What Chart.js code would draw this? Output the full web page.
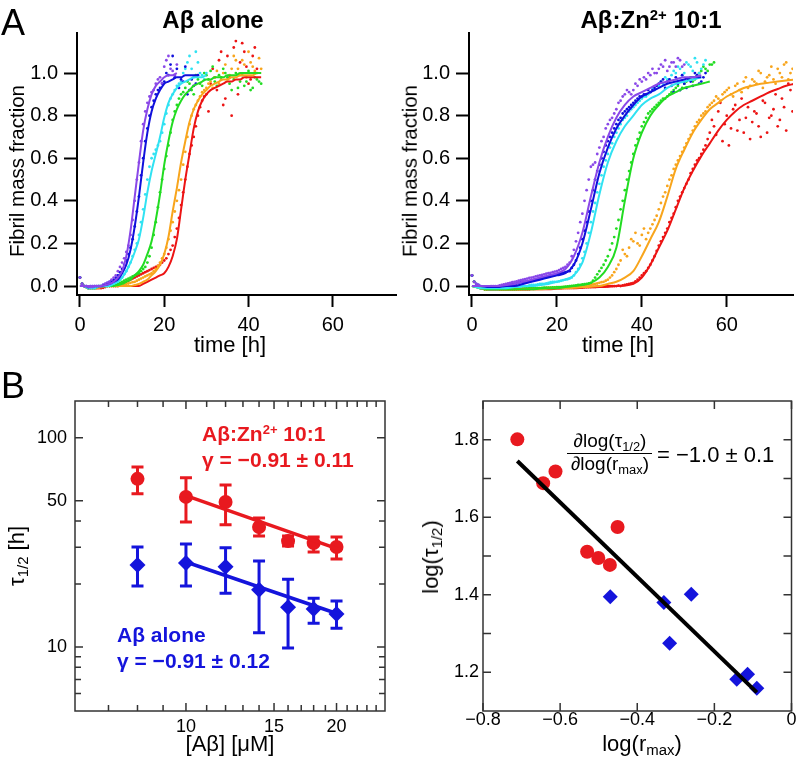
<!DOCTYPE html>
<html>
<head>
<meta charset="utf-8">
<script src="https://cdn.jsdelivr.net/npm/chart.js@4.4.1/dist/chart.umd.min.js"></script>
<style>
  body { margin: 0; background: #fff; }
  #fig { position: relative; width: 799px; height: 760px; overflow: hidden; font-family: 'Liberation Sans', Arial, sans-serif; color: #000; }
  #fig canvas { position: absolute; }
  .t { position: absolute; white-space: nowrap; line-height: 1; }
  .c { transform: translateX(-50%); }
  .rot { transform: translate(-50%, -50%) rotate(-90deg); }
  .sub { font-size: 0.68em; vertical-align: -0.28em; line-height: 0; }
  .sup { font-size: 0.62em; vertical-align: 0.55em; line-height: 0; }
  .red { color: #e8191f; font-weight: bold; font-size: 21px; }
  .blue { color: #1414dc; font-weight: bold; font-size: 21px; }
</style>
</head>
<body>
<div id="fig">
  <canvas id="aloneChart" width="400" height="370" style="left:0;top:0"></canvas>
  <canvas id="zincChart" width="399" height="370" style="left:400px;top:0"></canvas>
  <canvas id="tauChart" width="400" height="390" style="left:0;top:370px"></canvas>
  <canvas id="rmaxChart" width="399" height="390" style="left:400px;top:370px"></canvas>

  <div class="t" style="left:1px;top:4.5px;font-size:36px">A</div>
  <div class="t c" style="left:213px;top:7.7px;font-size:24px;font-weight:bold">Aβ alone</div>
  <div class="t c" style="left:651px;top:7.7px;font-size:24px;font-weight:bold">Aβ:Zn<span class="sup">2+</span> 10:1</div>
  <div class="t rot" style="left:17px;top:171px;font-size:20.5px">Fibril mass fraction</div>
  <div class="t rot" style="left:410px;top:171px;font-size:20.5px">Fibril mass fraction</div>
  <div class="t c" style="left:230px;top:334px;font-size:22px">time [h]</div>
  <div class="t c" style="left:618px;top:334px;font-size:22px">time [h]</div>

  <div class="t" style="left:1px;top:367.5px;font-size:36px">B</div>
  <div class="t red" style="left:202px;top:423px">Aβ:Zn<span class="sup">2+</span> 10:1</div>
  <div class="t red" style="left:202px;top:449px">γ = −0.91 ± 0.11</div>
  <div class="t blue" style="left:117px;top:624px">Aβ alone</div>
  <div class="t blue" style="left:117px;top:650px">γ = −0.91 ± 0.12</div>
  <div class="t rot" style="left:17px;top:556px;font-size:22px">τ<span class="sub">1/2</span> [h]</div>
  <div class="t c" style="left:230px;top:733px;font-size:22px">[Aβ] [μM]</div>

  <div class="t rot" style="left:431px;top:557px;font-size:22px">log(τ<span class="sub">1/2</span>)</div>
  <div class="t c" style="left:642px;top:733px;font-size:22px">log(r<span class="sub">max</span>)</div>
  <div class="t c" style="left:610px;top:431px;font-size:19px">∂log(τ<span class="sub">1/2</span>)</div>
  <div style="position:absolute;left:567px;top:452.5px;width:85px;height:1.5px;background:#000"></div>
  <div class="t c" style="left:610px;top:454px;font-size:19px">∂log(r<span class="sub">max</span>)</div>
  <div class="t" style="left:657px;top:443.5px;font-size:22px">= −1.0 ± 0.1</div>
</div>

<script>
// fibril kinetics, time grids in hours
const hoursAlone = [0,1,2,3,4,5,6,7,8,9,10,11,12,13,14,15,16,17,18,19,20,21,22,23,24,25,26,27,28,29,30,31,32,33,34,35,36,37,38,39,40,41,42,43];
const halfHoursAlone = [0.5,1.5,2.5,3.5,4.5,5.5,6.5,7.5,8.5,9.5,10.5,11.5,12.5,13.5,14.5,15.5,16.5,17.5,18.5,19.5,20.5,21.5,22.5,23.5,24.5,25.5,26.5,27.5,28.5,29.5,30.5,31.5,32.5,33.5,34.5,35.5,36.5,37.5,38.5,39.5,40.5,41.5,42.5];
const hoursZinc = [0,1,2,3,4,5,6,7,8,9,10,11,12,13,14,15,16,17,18,19,20,21,22,23,24,25,26,27,28,29,30,31,32,33,34,35,36,37,38,39,40,41,42,43,44,45,46,47,48,49,50,51,52,53,54,55,56,57,58,59,60,61,62,63,64,65,66,67,68,69,70,71,72,73,74,75,76];
const halfHoursZinc = [0.5,1.5,2.5,3.5,4.5,5.5,6.5,7.5,8.5,9.5,10.5,11.5,12.5,13.5,14.5,15.5,16.5,17.5,18.5,19.5,20.5,21.5,22.5,23.5,24.5,25.5,26.5,27.5,28.5,29.5,30.5,31.5,32.5,33.5,34.5,35.5,36.5,37.5,38.5,39.5,40.5,41.5,42.5,43.5,44.5,45.5,46.5,47.5,48.5,49.5,50.5,51.5,52.5,53.5,54.5,55.5,56.5,57.5,58.5,59.5,60.5,61.5,62.5,63.5,64.5,65.5,66.5,67.5,68.5,69.5,70.5,71.5,72.5,73.5,74.5,75.5];
const hoursZincFit = [0,2,4,6,8,10,12,14,16,18,20,22,24,26,28,30,32,34,36,38,40,42,44,46,48,50,52,54,56,58,60,62,64,66,68,70,72,74,76];
const timeTicks = [0, 20, 40, 60];
const fractionTicks = [0, 0.2, 0.4, 0.6, 0.8, 1.0];

// A-beta alone: dots on the hour, dots on the half hour, fitted curve
const purpleAloneDots = [0.04,0,-0.005,-0.005,0,0,0.01,0.02,0.04,0.07,0.11,0.16,0.24,0.40,0.58,0.76,0.86,0.91,0.95,0.98,1.03,1.08,1.01,1.04];
const purpleAloneHalf = [0.01,0,-0.005,0,0,0.005,0.015,0.03,0.05,0.09,0.13,0.19,0.31,0.50,0.68,0.82,0.89,0.92,0.97,0.95,1.06,1.02,0.99];
const purpleAloneFit = [0,0,0,0,0,0,0.005,0.01,0.02,0.04,0.07,0.14,0.26,0.42,0.58,0.73,0.83,0.90,0.94,0.96,0.98,0.99,0.99,1.0];
const blueAloneDots = [0.04,0,-0.005,0,0,0,0.01,0.02,0.03,0.05,0.08,0.12,0.18,0.28,0.42,0.60,0.74,0.84,0.90,0.93,0.96,0.99,1.08,1.02,0.97,1.03,0.92,0.94,0.99];
const blueAloneHalf = [0.01,0,0,0,0,0.005,0.015,0.025,0.04,0.065,0.10,0.15,0.22,0.35,0.52,0.68,0.80,0.87,0.92,0.95,1.0,1.04,0.98,0.93,0.96,0.90,0.97,0.95];
const blueAloneFit = [0,0,0,0,0,0,0.005,0.01,0.02,0.03,0.06,0.10,0.17,0.28,0.42,0.58,0.72,0.82,0.88,0.92,0.95,0.96,0.97,0.98,0.98,0.99,0.99,0.99,0.99];
const cyanAloneDots = [0.04,0,-0.01,-0.01,-0.005,0,0,0.005,0.01,0.02,0.04,0.07,0.11,0.17,0.24,0.36,0.50,0.60,0.64,0.68,0.76,0.85,0.90,0.94,0.96,1.02,1.08,0.98,1.05,0.99,1.00];
const cyanAloneHalf = [0.01,-0.005,-0.01,-0.01,0,0,0,0.008,0.015,0.03,0.055,0.09,0.14,0.20,0.30,0.43,0.56,0.62,0.66,0.72,0.81,0.88,0.92,0.95,1.0,1.05,1.02,1.1,1.0,0.97];
const cyanAloneFit = [0,0,0,0,0,0,0,0,0.01,0.02,0.04,0.07,0.11,0.16,0.22,0.32,0.44,0.54,0.62,0.70,0.79,0.86,0.90,0.93,0.95,0.96,0.97,0.98,0.98,0.98,0.99];
const greenAloneDots = [0.04,0,-0.01,-0.01,-0.005,0,0,0,0.005,0.01,0.02,0.03,0.04,0.05,0.06,0.08,0.11,0.18,0.30,0.44,0.55,0.66,0.78,0.85,0.90,0.93,0.95,0.90,0.97,0.94,0.99,1.01,0.96,0.99,1.02,0.98,0.92,1.00,0.96,0.94,1.01,0.93,0.97,0.95];
const greenAloneHalf = [0.01,-0.005,-0.01,-0.01,0,0,0,0.003,0.008,0.015,0.025,0.035,0.045,0.055,0.07,0.09,0.14,0.24,0.37,0.50,0.61,0.72,0.82,0.88,0.91,0.96,0.92,0.99,0.95,1.0,0.97,1.03,0.94,0.98,1.0,0.95,0.97,0.93,0.99,0.96,0.92,0.98,0.96];
const greenAloneFit = [0,0,0,0,0,0,0,0,0,0.005,0.01,0.02,0.03,0.05,0.07,0.10,0.15,0.21,0.31,0.43,0.57,0.68,0.77,0.83,0.87,0.90,0.92,0.94,0.95,0.96,0.97,0.97,0.98,0.98,0.98,0.99,0.99,0.99,1.0,1.0,1.0,1.0,1.0,1.0];
const orangeAloneDots = [0.04,0,-0.01,-0.01,-0.01,-0.005,0,0,0,0,0.005,0.01,0.015,0.02,0.03,0.04,0.05,0.06,0.08,0.11,0.15,0.22,0.30,0.40,0.50,0.63,0.76,0.83,0.87,0.91,0.93,0.96,0.98,0.95,1.0,0.97,1.02,1.06,0.99,1.04,1.10,1.03,1.0,1.02];
const orangeAloneHalf = [0.01,-0.005,-0.01,-0.01,-0.008,0,0,0,0,0.003,0.008,0.012,0.018,0.025,0.035,0.045,0.055,0.07,0.095,0.13,0.18,0.26,0.35,0.45,0.57,0.70,0.80,0.85,0.89,0.92,0.95,0.93,1.01,0.97,1.04,0.99,1.08,1.02,1.06,0.98,1.05,1.01,1.07];
const orangeAloneFit = [0,0,0,0,0,0,0,0,0,0,0,0,0,0.005,0.01,0.02,0.03,0.05,0.07,0.10,0.15,0.23,0.35,0.46,0.58,0.68,0.77,0.83,0.87,0.90,0.92,0.94,0.95,0.96,0.97,0.97,0.98,0.98,0.99,0.99,0.99,0.99,1.0,1.0];
const redAloneDots = [0.04,0,-0.01,-0.01,-0.01,-0.01,-0.005,0,0,0,0.01,0.02,0.03,0.04,0.05,0.06,0.07,0.08,0.09,0.10,0.12,0.15,0.19,0.27,0.38,0.50,0.62,0.70,0.80,0.87,0.90,0.95,0.98,1.06,0.85,1.08,0.80,1.15,1.05,1.10,0.95,1.08,1.02];
const redAloneHalf = [0.01,-0.005,-0.01,-0.01,-0.01,-0.008,0,0,0,0.005,0.015,0.025,0.035,0.045,0.055,0.065,0.075,0.085,0.095,0.11,0.13,0.17,0.23,0.32,0.44,0.56,0.66,0.75,0.84,0.89,0.82,1.02,0.92,1.10,0.88,0.98,1.12,0.90,1.14,1.03,0.97,1.12];
const redAloneFit = [0,0,0,0,0,0,0,0,0,0,0,0,0,0,0,0.01,0.02,0.03,0.04,0.05,0.06,0.09,0.14,0.22,0.36,0.50,0.62,0.74,0.82,0.87,0.90,0.92,0.93,0.94,0.95,0.96,0.96,0.97,0.97,0.98,0.98,0.98,0.98,0.98];

// A-beta : Zn2+ 10:1
const purpleZincDots = [0.05,0.01,0,-0.005,-0.005,0,0,0.005,0.01,0.015,0.02,0.025,0.03,0.035,0.04,0.045,0.05,0.055,0.06,0.065,0.07,0.08,0.09,0.11,0.17,0.25,0.34,0.45,0.56,0.58,0.65,0.70,0.76,0.79,0.83,0.87,0.90,0.91,0.92,0.94,0.96,0.97,0.99,1.0,1.02,1.03,1.01,1.05,1.03,1.06,1.04];
const purpleZincHalf = [0.02,0.005,-0.005,-0.005,0,0,0.003,0.008,0.012,0.018,0.022,0.028,0.032,0.038,0.042,0.048,0.052,0.058,0.062,0.068,0.075,0.085,0.10,0.14,0.21,0.30,0.40,0.50,0.57,0.62,0.68,0.74,0.78,0.81,0.86,0.89,0.92,0.90,0.95,0.97,0.98,1.0,1.02,1.0,1.04,1.06,1.03,1.05,1.07,1.03];
const purpleZincFit = [0,0,0,0,0.005,0.01,0.02,0.03,0.04,0.05,0.06,0.08,0.14,0.25,0.42,0.58,0.70,0.79,0.85,0.89,0.91,0.93,0.95,0.96,0.97,0.98,0.98,0.99];
const blueZincDots = [0.05,0.01,0,-0.005,-0.01,-0.01,-0.005,0,0,0.005,0.01,0.015,0.02,0.02,0.025,0.03,0.035,0.04,0.045,0.05,0.055,0.06,0.065,0.07,0.10,0.15,0.22,0.30,0.40,0.50,0.57,0.63,0.68,0.72,0.76,0.79,0.82,0.84,0.86,0.88,0.89,0.90,0.91,0.93,0.95,0.97,0.96,0.94,0.98,0.92,0.95,0.97,0.94,0.99,0.96,1.0];
const blueZincHalf = [0.02,0.005,-0.005,-0.008,-0.01,-0.008,-0.003,0,0.003,0.008,0.012,0.018,0.02,0.022,0.028,0.032,0.038,0.042,0.048,0.052,0.058,0.062,0.068,0.085,0.12,0.18,0.26,0.35,0.45,0.54,0.60,0.66,0.70,0.74,0.78,0.81,0.83,0.85,0.87,0.89,0.90,0.92,0.92,0.94,0.96,0.93,0.97,0.91,0.95,0.99,0.93,0.96,1.0,0.95,0.98];
const blueZincFit = [0,0,-0.005,-0.005,0,0,0.01,0.02,0.03,0.04,0.05,0.06,0.10,0.20,0.36,0.53,0.65,0.74,0.80,0.85,0.89,0.91,0.93,0.95,0.96,0.97,0.98,0.98];
const cyanZincDots = [0.05,0,-0.01,-0.01,-0.015,-0.015,-0.015,-0.01,-0.01,-0.01,-0.005,-0.005,0,0,0.005,0.005,0.01,0.01,0.015,0.02,0.02,0.025,0.03,0.035,0.05,0.08,0.13,0.20,0.30,0.39,0.48,0.56,0.62,0.67,0.72,0.76,0.79,0.82,0.84,0.86,0.88,0.89,0.91,0.92,0.94,0.95,0.97,0.99,1.0,1.02,1.0,1.04,1.01,1.05,1.02,1.06];
const cyanZincHalf = [0.02,-0.005,-0.01,-0.012,-0.015,-0.015,-0.012,-0.01,-0.01,-0.008,-0.005,-0.002,0,0.003,0.005,0.008,0.01,0.012,0.018,0.02,0.022,0.028,0.032,0.04,0.065,0.10,0.16,0.25,0.35,0.44,0.52,0.59,0.65,0.70,0.74,0.78,0.80,0.83,0.85,0.87,0.89,0.90,0.93,0.94,0.96,0.98,0.97,1.01,1.03,0.99,1.05,1.03,1.07,1.0,1.04];
const cyanZincFit = [0,-0.01,-0.01,-0.01,-0.01,-0.005,0,0,0.005,0.01,0.02,0.03,0.05,0.11,0.25,0.43,0.58,0.68,0.75,0.80,0.85,0.88,0.90,0.93,0.95,0.96,0.97,0.98];
const greenZincDots = [0.05,0,-0.01,-0.015,-0.015,-0.015,-0.015,-0.015,-0.015,-0.015,-0.015,-0.012,-0.012,-0.01,-0.01,-0.01,-0.01,-0.008,-0.008,-0.006,-0.005,-0.005,-0.003,0,0.002,0.005,0.008,0.01,0.015,0.04,0.07,0.10,0.14,0.20,0.27,0.36,0.45,0.54,0.62,0.69,0.75,0.79,0.82,0.84,0.86,0.88,0.89,0.91,0.93,0.92,0.95,0.97,0.96,0.99,1.01,1.02,1.04,1.05];
const greenZincHalf = [0.02,-0.005,-0.012,-0.015,-0.015,-0.015,-0.015,-0.015,-0.015,-0.015,-0.014,-0.012,-0.011,-0.01,-0.01,-0.01,-0.009,-0.008,-0.007,-0.006,-0.005,-0.004,-0.002,0.001,0.003,0.006,0.009,0.012,0.025,0.055,0.085,0.12,0.17,0.23,0.31,0.40,0.50,0.58,0.66,0.72,0.77,0.81,0.83,0.85,0.87,0.88,0.90,0.92,0.94,0.93,0.96,0.98,0.97,1.0,1.03,1.01,1.04];
const greenZincFit = [0,-0.01,-0.015,-0.015,-0.015,-0.015,-0.015,-0.015,-0.012,-0.01,-0.01,-0.005,0,0.005,0.015,0.04,0.09,0.18,0.40,0.60,0.72,0.80,0.85,0.89,0.91,0.93,0.94,0.95,0.96];
const orangeZincDots = [0.05,0,-0.01,-0.015,-0.015,-0.015,-0.015,-0.015,-0.015,-0.015,-0.015,-0.015,-0.012,-0.012,-0.01,-0.01,-0.01,-0.01,-0.008,-0.008,-0.006,-0.005,-0.004,-0.003,-0.002,0,0,0.003,0.005,0.01,0.015,0.02,0.03,0.05,0.08,0.12,0.15,0.18,0.21,0.20,0.24,0.22,0.27,0.31,0.36,0.42,0.47,0.52,0.57,0.61,0.65,0.69,0.73,0.77,0.80,0.82,0.85,0.87,0.88,0.90,0.92,0.90,0.94,0.92,0.96,0.93,0.97,0.95,1.0,0.96,0.99,0.97,1.02,0.98,1.05,1.0,1.08];
const orangeZincHalf = [0.02,-0.005,-0.012,-0.015,-0.015,-0.015,-0.015,-0.015,-0.015,-0.015,-0.015,-0.015,-0.013,-0.012,-0.01,-0.01,-0.01,-0.009,-0.008,-0.007,-0.006,-0.005,-0.004,-0.003,-0.001,0,0.002,0.004,0.008,0.012,0.018,0.025,0.04,0.065,0.10,0.17,0.14,0.22,0.25,0.19,0.27,0.25,0.29,0.33,0.39,0.44,0.50,0.55,0.59,0.63,0.67,0.71,0.75,0.78,0.81,0.84,0.86,0.89,0.87,0.91,0.93,0.89,0.95,0.91,0.98,0.94,0.96,1.01,0.93,0.98,1.03,0.95,1.0,1.04,0.97,1.02];
const orangeZincFit = [0,-0.01,-0.015,-0.015,-0.015,-0.015,-0.015,-0.015,-0.015,-0.012,-0.01,-0.01,-0.008,-0.005,-0.003,0,0.01,0.02,0.04,0.07,0.14,0.22,0.30,0.42,0.55,0.64,0.72,0.78,0.83,0.86,0.89,0.91,0.93,0.94,0.95,0.955,0.96,0.965,0.97];
const redZincDots = [0.05,0,-0.01,-0.015,-0.015,-0.015,-0.015,-0.015,-0.015,-0.015,-0.015,-0.015,-0.015,-0.015,-0.012,-0.012,-0.012,-0.01,-0.01,-0.01,-0.01,-0.01,-0.008,-0.008,-0.008,-0.006,-0.006,-0.005,-0.005,-0.004,-0.003,-0.002,-0.001,0,0,0,0.005,0.01,0.015,0.03,0.05,0.07,0.10,0.14,0.19,0.23,0.27,0.32,0.37,0.42,0.46,0.50,0.55,0.59,0.62,0.66,0.72,0.75,0.82,0.68,0.80,0.74,0.85,0.78,0.72,0.84,0.77,0.81,0.70,0.86,0.79,0.83,0.75,0.88,0.73,0.92,0.86];
const redZincHalf = [0.02,-0.005,-0.012,-0.015,-0.015,-0.015,-0.015,-0.015,-0.015,-0.015,-0.015,-0.015,-0.015,-0.015,-0.013,-0.012,-0.011,-0.01,-0.01,-0.01,-0.01,-0.009,-0.008,-0.008,-0.007,-0.006,-0.005,-0.005,-0.004,-0.003,-0.002,-0.001,0,0,0.002,0.003,0.008,0.012,0.022,0.04,0.06,0.085,0.12,0.165,0.21,0.25,0.30,0.34,0.40,0.44,0.48,0.53,0.57,0.60,0.64,0.69,0.78,0.71,0.86,0.76,0.66,0.83,0.73,0.88,0.79,0.69,0.82,0.75,0.87,0.72,0.80,0.90,0.78,0.84,0.95,0.82];
const redZincFit = [0,-0.01,-0.015,-0.015,-0.015,-0.015,-0.015,-0.015,-0.015,-0.015,-0.012,-0.01,-0.01,-0.008,-0.006,-0.005,-0.003,0,0.003,0.01,0.04,0.10,0.18,0.26,0.36,0.46,0.54,0.61,0.67,0.73,0.78,0.82,0.85,0.87,0.89,0.91,0.925,0.94,0.95];

// half-time vs concentration (B left)
const concentrations = [8, 10, 12, 14, 16, 18, 20];
const tauZinc = [63.7, 52.2, 49.4, 37.5, 32.1, 31.4, 30.1];
const tauZincHigh = [72.6, 64.4, 59.6, 41.4, 34.0, 33.6, 33.6];
const tauZincLow = [54.0, 39.6, 38.4, 34.0, 30.4, 28.5, 26.4];
const tauAlone = [24.7, 25.2, 24.2, 18.8, 15.5, 15.2, 14.4];
const tauAloneHigh = [30.1, 31.1, 29.8, 25.8, 21.1, 17.1, 16.6];
const tauAloneLow = [19.6, 19.6, 18.1, 11.7, 9.9, 13.0, 12.3];
const fitConcentrations = [10, 20.5];
const fitTauZinc = [53, 29];
const fitTauAlone = [25.5, 14.2];
const concTicks = [7,8,9,10,11,12,13,14,15,16,17,18,19,20,21,22,23,24];
const concLabels = [10, 15, 20];
const tauTicks = [6,7,8,9,10,20,30,40,50,100];
const tauLabels = [10, 50, 100];

// log half-time vs log max rate (B right)
const logRmaxZinc = [-0.711, -0.644, -0.612, -0.530, -0.501, -0.471, -0.451];
const logTauZinc = [1.801, 1.688, 1.718, 1.511, 1.495, 1.477, 1.575];
const logRmaxAlone = [-0.470, -0.331, -0.316, -0.260, -0.142, -0.114, -0.090];
const logTauAlone = [1.395, 1.380, 1.275, 1.401, 1.182, 1.195, 1.159];
const fitLogRmax = [-0.711, -0.090];
const fitLogTau = [1.745, 1.148];
const rmaxTicks = [-0.8, -0.6, -0.4, -0.2, 0];
const logTauTicks = [1.2, 1.3, 1.4, 1.5, 1.6, 1.7, 1.8];
const logTauLabels = [1.2, 1.4, 1.6, 1.8];

const FONT = "'Liberation Sans', Arial, sans-serif";
const COLORS = { purple: '#8a48e8', blue: '#1010dc', cyan: '#30e2f2', green: '#22dc22', orange: '#f8a51c', red: '#ec1414' };
const RED = '#e8191f';
const BLUE = '#1414dc';

Chart.defaults.font.family = FONT;
Chart.defaults.color = '#000';

const pts = (xs, ys) => ys.map((y, i) => ({ x: xs[i], y }));
const useTicks = list => scale => { scale.ticks = list.map(v => ({ value: v })); };
const fixSize = (prop, size) => scale => {
  scale[prop] = size;
  scale.paddingLeft = scale.paddingRight = scale.paddingTop = scale.paddingBottom = 0;
};
const minus = s => s.replace('-', '\u2212');

// frame + inward ticks on all four sides (panel B)
const innerTicks = {
  id: 'innerTicks',
  afterDraw(chart, args, opts) {
    const { ctx, chartArea: a, scales: { x, y } } = chart;
    ctx.save();
    ctx.strokeStyle = '#333';
    ctx.lineWidth = 1.5;
    ctx.strokeRect(a.left, a.top, a.right - a.left, a.bottom - a.top);
    ctx.beginPath();
    x.ticks.forEach(t => {
      const px = x.getPixelForValue(t.value);
      const len = t.label ? opts.major : opts.minor;
      ctx.moveTo(px, a.bottom); ctx.lineTo(px, a.bottom - len);
      ctx.moveTo(px, a.top); ctx.lineTo(px, a.top + len);
    });
    y.ticks.forEach(t => {
      const py = y.getPixelForValue(t.value);
      const len = t.label ? opts.major : opts.minor;
      ctx.moveTo(a.left, py); ctx.lineTo(a.left + len, py);
      ctx.moveTo(a.right, py); ctx.lineTo(a.right - len, py);
    });
    ctx.stroke();
    ctx.restore();
  }
};

const errorBars = {
  id: 'errorBars',
  beforeDatasetsDraw(chart) {
    const { ctx, scales: { x, y } } = chart;
    chart.data.datasets.forEach(ds => {
      if (!ds.errHigh) return;
      ctx.save();
      ctx.strokeStyle = ds.backgroundColor;
      ctx.lineWidth = 3;
      ctx.beginPath();
      ds.data.forEach((p, i) => {
        const px = x.getPixelForValue(p.x);
        const top = y.getPixelForValue(ds.errHigh[i]);
        const bot = y.getPixelForValue(ds.errLow[i]);
        ctx.moveTo(px, top); ctx.lineTo(px, bot);
        ctx.moveTo(px - 6, top); ctx.lineTo(px + 6, top);
        ctx.moveTo(px - 6, bot); ctx.lineTo(px + 6, bot);
      });
      ctx.stroke();
      ctx.restore();
    });
  }
};

function createKineticsChart(id, grids, curves, xMax, yWidth, padRight) {
  const datasets = [];
  curves.forEach(c => {
    const dots = pts(grids.dots, c.dots).concat(pts(grids.half, c.half));
    datasets.push({ data: dots, showLine: false, pointRadius: 1.4, backgroundColor: c.color, pointBorderWidth: 0, order: 2 });
    datasets.push({ data: pts(grids.fit, c.fit), showLine: true, borderColor: c.color, borderWidth: 2, pointRadius: 0, cubicInterpolationMode: 'monotone', order: 1 });
  });
  new Chart(document.getElementById(id), {
    type: 'scatter',
    data: { datasets },
    options: {
      responsive: false, animation: false, events: [],
      layout: { padding: { top: 33, right: padRight, left: 0, bottom: 0 } },
      plugins: { legend: { display: false }, tooltip: { enabled: false } },
      scales: {
        x: {
          type: 'linear', min: -0.7, max: xMax,
          afterBuildTicks: useTicks(timeTicks),
          afterFit: fixSize('height', 75),
          border: { color: '#000', width: 2 },
          grid: { drawOnChartArea: false, tickLength: 12, tickWidth: 2, tickColor: '#000' },
          ticks: { font: { size: 20 }, padding: 6, maxRotation: 0, autoSkip: false, callback: v => String(v) }
        },
        y: {
          type: 'linear', min: -0.042, max: 1.188,
          afterBuildTicks: useTicks(fractionTicks),
          afterFit: fixSize('width', yWidth),
          border: { color: '#000', width: 2 },
          grid: { drawOnChartArea: false, tickLength: 13, tickWidth: 2, tickColor: '#000' },
          ticks: { font: { size: 20 }, padding: 6, autoSkip: false, callback: v => v.toFixed(1) }
        }
      }
    }
  });
}

function createTauChart() {
  new Chart(document.getElementById('tauChart'), {
    type: 'scatter',
    data: {
      datasets: [
        { data: pts(fitConcentrations, fitTauZinc), showLine: true, borderColor: RED, borderWidth: 3.5, pointRadius: 0, order: 0 },
        { data: pts(fitConcentrations, fitTauAlone), showLine: true, borderColor: BLUE, borderWidth: 3.5, pointRadius: 0, order: 0 },
        { data: pts(concentrations, tauZinc), errHigh: tauZincHigh, errLow: tauZincLow, backgroundColor: RED, pointStyle: 'circle', pointRadius: 7, pointBorderWidth: 0, order: 1 },
        { data: pts(concentrations, tauAlone), errHigh: tauAloneHigh, errLow: tauAloneLow, backgroundColor: BLUE, pointStyle: 'rectRot', pointRadius: 8, pointBorderWidth: 0, order: 1 }
      ]
    },
    options: {
      responsive: false, animation: false, events: [],
      layout: { padding: { top: 31, right: 15, left: 0, bottom: 0 } },
      plugins: { legend: { display: false }, tooltip: { enabled: false }, innerTicks: { major: 8, minor: 6 } },
      scales: {
        x: {
          type: 'logarithmic', min: 6, max: 25,
          afterBuildTicks: useTicks(concTicks),
          afterFit: fixSize('height', 49),
          border: { display: false }, grid: { display: false, drawTicks: false },
          ticks: { font: { size: 18 }, padding: 5, maxRotation: 0, autoSkip: false, callback: v => concLabels.includes(v) ? String(v) : '' }
        },
        y: {
          type: 'logarithmic', min: 4.95, max: 150,
          afterBuildTicks: useTicks(tauTicks),
          afterFit: fixSize('width', 75),
          border: { display: false }, grid: { display: false, drawTicks: false },
          ticks: { font: { size: 18 }, padding: 8, autoSkip: false, callback: v => tauLabels.includes(v) ? String(v) : '' }
        }
      }
    },
    plugins: [innerTicks, errorBars]
  });
}

function createRmaxChart() {
  new Chart(document.getElementById('rmaxChart'), {
    type: 'scatter',
    data: {
      datasets: [
        { data: pts(fitLogRmax, fitLogTau), showLine: true, borderColor: '#000', borderWidth: 4, pointRadius: 0, order: 0 },
        { data: pts(logRmaxZinc, logTauZinc), backgroundColor: RED, pointStyle: 'circle', pointRadius: 7, pointBorderWidth: 0, order: 1 },
        { data: pts(logRmaxAlone, logTauAlone), backgroundColor: BLUE, pointStyle: 'rectRot', pointRadius: 7.5, pointBorderWidth: 0, order: 1 }
      ]
    },
    options: {
      responsive: false, animation: false, events: [],
      layout: { padding: { top: 31, right: 6, left: 0, bottom: 0 } },
      plugins: { legend: { display: false }, tooltip: { enabled: false }, innerTicks: { major: 8, minor: 8 } },
      scales: {
        x: {
          type: 'linear', min: -0.8, max: 0,
          afterBuildTicks: useTicks(rmaxTicks),
          afterFit: fixSize('height', 49),
          border: { display: false }, grid: { display: false, drawTicks: false },
          ticks: { font: { size: 18 }, padding: -2, maxRotation: 0, autoSkip: false, callback: v => v === 0 ? '0' : minus(v.toFixed(1)) }
        },
        y: {
          type: 'linear', min: 1.1, max: 1.9,
          afterBuildTicks: useTicks(logTauTicks),
          afterFit: fixSize('width', 83),
          border: { display: false }, grid: { display: false, drawTicks: false },
          ticks: { font: { size: 18 }, padding: 4, autoSkip: false, callback: v => logTauLabels.includes(v) ? v.toFixed(1) : '' }
        }
      }
    },
    plugins: [innerTicks]
  });
}

createKineticsChart('aloneChart', { dots: hoursAlone, half: halfHoursAlone, fit: hoursAlone }, [
  { dots: purpleAloneDots, half: purpleAloneHalf, fit: purpleAloneFit, color: COLORS.purple },
  { dots: blueAloneDots, half: blueAloneHalf, fit: blueAloneFit, color: COLORS.blue },
  { dots: cyanAloneDots, half: cyanAloneHalf, fit: cyanAloneFit, color: COLORS.cyan },
  { dots: greenAloneDots, half: greenAloneHalf, fit: greenAloneFit, color: COLORS.green },
  { dots: orangeAloneDots, half: orangeAloneHalf, fit: orangeAloneFit, color: COLORS.orange },
  { dots: redAloneDots, half: redAloneHalf, fit: redAloneFit, color: COLORS.red }
], 75.0, 77, 3);

createKineticsChart('zincChart', { dots: hoursZinc, half: halfHoursZinc, fit: hoursZincFit }, [
  { dots: purpleZincDots, half: purpleZincHalf, fit: purpleZincFit, color: COLORS.purple },
  { dots: blueZincDots, half: blueZincHalf, fit: blueZincFit, color: COLORS.blue },
  { dots: cyanZincDots, half: cyanZincHalf, fit: cyanZincFit, color: COLORS.cyan },
  { dots: greenZincDots, half: greenZincHalf, fit: greenZincFit, color: COLORS.green },
  { dots: orangeZincDots, half: orangeZincHalf, fit: orangeZincFit, color: COLORS.orange },
  { dots: redZincDots, half: redZincHalf, fit: redZincFit, color: COLORS.red }
], 75.6, 69, 6);

createTauChart();
createRmaxChart();
</script>
</body>
</html>
